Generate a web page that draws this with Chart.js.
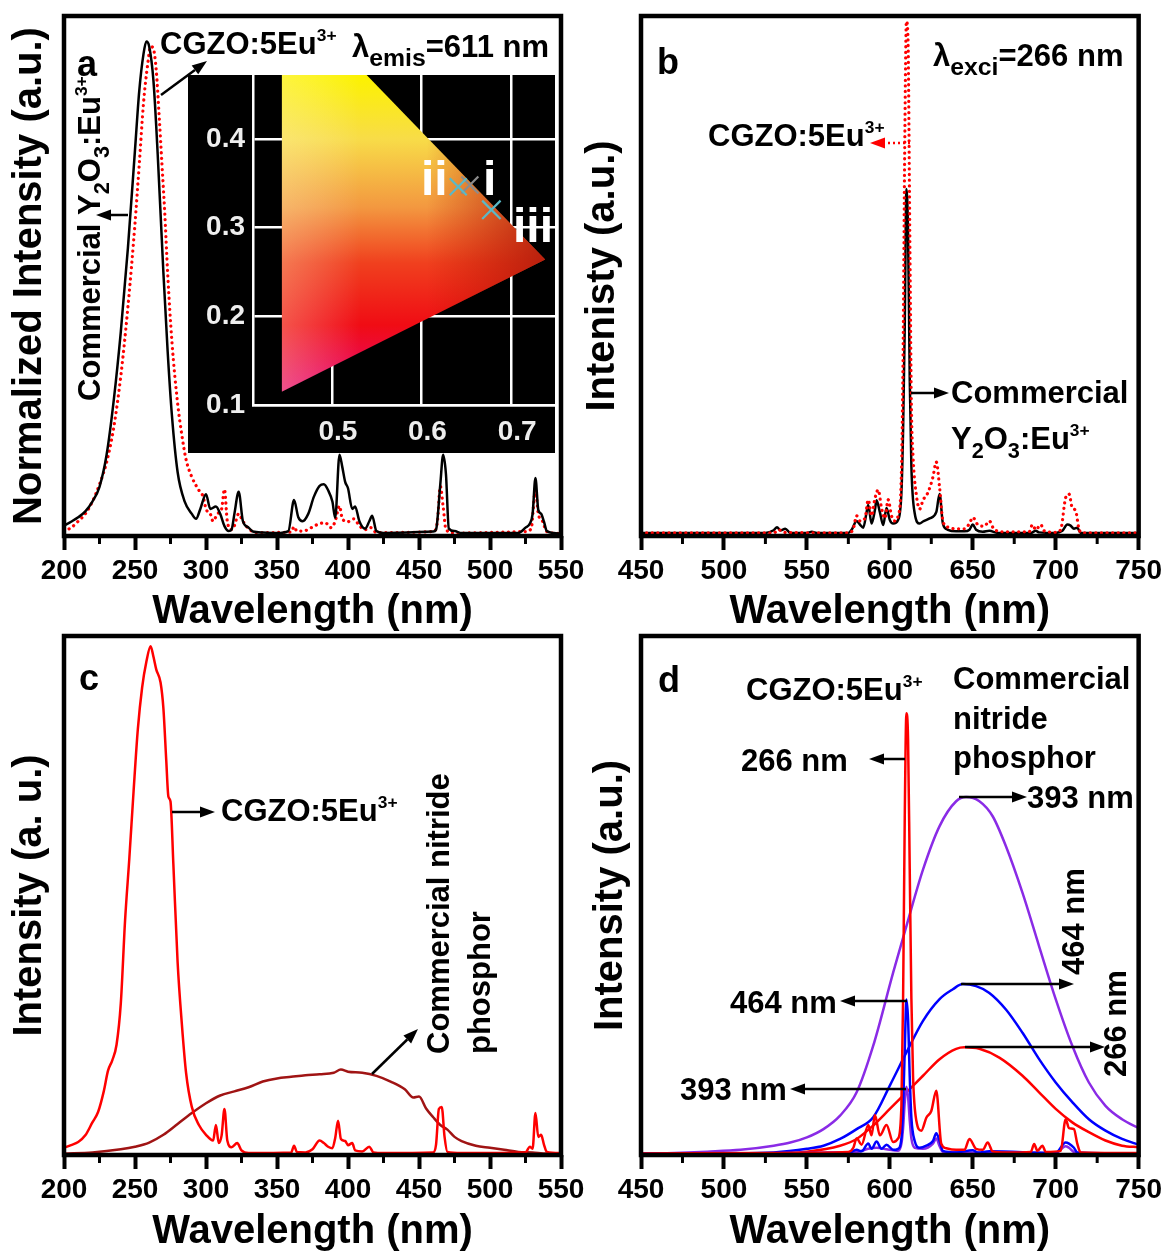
<!DOCTYPE html>
<html>
<head>
<meta charset="utf-8">
<script src="https://cdn.jsdelivr.net/npm/chart.js@4.4.1/dist/chart.umd.min.js"></script>
<style>
  body { margin: 0; background: #fff; width: 1166px; height: 1252px; position: relative; overflow: hidden; }
  canvas { position: absolute; }
</style>
</head>
<body>
<canvas id="chartA" width="590" height="632" style="left:0px;top:0px"></canvas>
<canvas id="chartB" width="583" height="632" style="left:583px;top:0px"></canvas>
<canvas id="chartC" width="590" height="626" style="left:0px;top:626px"></canvas>
<canvas id="chartD" width="583" height="626" style="left:583px;top:626px"></canvas>
<canvas id="inset" width="367" height="378" style="left:188px;top:75px"></canvas>
<script>
// ---- data ----
// a: excitation spectra, lambda_emis = 611 nm (normalized)
const aY2o3Nm  = [200,205,210,215,220,225,230,235,240,245,250,253,256,258,260,263,266,270,273,276,280,285,290,293,296,300,303,307,310,313,316,318,320,323,326,330,333,340,350,358,362,365,368,372,376,380,383,386,389,391,394,396,398,400,403,405,408,412,415,417,420,425,460,462,465,467,469,471,475,480,520,525,528,530,532,534,536,538,540,545,550];
const aY2o3Int = [0.016,0.024,0.033,0.045,0.065,0.095,0.16,0.27,0.41,0.58,0.78,0.9,0.975,1.0,0.99,0.92,0.77,0.53,0.37,0.24,0.125,0.065,0.04,0.03,0.05,0.08,0.05,0.055,0.04,0.015,0.005,0.008,0.04,0.085,0.025,0.012,0.004,0.002,0.001,0.005,0.068,0.033,0.025,0.04,0.075,0.097,0.1,0.088,0.065,0.032,0.16,0.135,0.105,0.092,0.05,0.055,0.025,0.01,0.025,0.036,0.005,0.001,0.004,0.008,0.1,0.16,0.12,0.01,0.005,0.001,0.001,0.012,0.02,0.04,0.113,0.048,0.04,0.024,0.005,0.001,0];
const aCgzoNm  = [200,205,210,215,220,225,230,235,240,245,250,253,256,259,261,263,265,267,269,271,273,276,280,283,286,290,295,298,300,303,305,308,311,313,315,318,320,323,326,330,335,360,362,364,370,376,380,384,388,391,394,396,400,404,408,412,416,420,460,463,465,467,469,475,525,529,532,534,537,540,550];
const aCgzoInt = [0.005,0.012,0.025,0.04,0.065,0.1,0.145,0.215,0.32,0.46,0.63,0.75,0.875,0.955,0.99,0.985,0.94,0.85,0.75,0.65,0.53,0.39,0.265,0.2,0.15,0.115,0.088,0.075,0.05,0.04,0.025,0.04,0.05,0.09,0.025,0.008,0.016,0.04,0.025,0.01,0.002,0.003,0.014,0.005,0.006,0.015,0.02,0.022,0.012,0.025,0.056,0.03,0.024,0.03,0.016,0.008,0.012,0.002,0.004,0.025,0.096,0.055,0.008,0.001,0.004,0.01,0.088,0.04,0.025,0.004,0];
// inset: CIE chromaticity
const gamutX      = [0.444, 0.738];
const gamutTop    = [0.571, 0.264];
const gamutBottom = [0.115, 0.264];
const cieLabels = ['i', 'ii', 'iii'];
const cieX      = [0.654, 0.641, 0.678];
const cieY      = [0.348, 0.346, 0.320];

// b: emission spectra, lambda_exci = 266 nm
const bY2o3Nm  = [450,525,530,532,534,537,540,550,553,556,575,577,580,582,584,586,587,589,591,592,594,596,598,600,602,605,607,608,609,610,611,612,613,615,618,620,624,628,630,632,635,640,645,648,650,652,656,660,665,685,688,690,700,704,707,709,711,713,715,750];
const bY2o3Int = [0.002,0.002,0.007,0.013,0.007,0.01,0.002,0.002,0.004,0.002,0.002,0.008,0.025,0.018,0.012,0.042,0.056,0.02,0.046,0.065,0.042,0.017,0.05,0.027,0.02,0.027,0.08,0.2,0.4,0.666,0.58,0.3,0.13,0.04,0.02,0.024,0.03,0.042,0.077,0.02,0.008,0.005,0.005,0.008,0.018,0.008,0.004,0.006,0.002,0.002,0.006,0.003,0.002,0.006,0.018,0.016,0.01,0.012,0.002,0.002];
const bCgzoNm  = [450,530,533,536,575,578,580,582,585,587,589,591,593,595,597,599,601,603,605,607,608,609,610,611,612,613,614,616,618,620,623,626,628,630,632,635,640,645,648,650,653,657,660,663,670,684,686,688,691,693,700,703,706,708,710,712,714,716,750];
const bCgzoInt = [0.002,0.002,0.008,0.003,0.002,0.01,0.035,0.025,0.03,0.066,0.035,0.068,0.085,0.05,0.03,0.066,0.035,0.025,0.035,0.12,0.35,0.75,0.99,0.95,0.6,0.25,0.15,0.075,0.048,0.065,0.08,0.11,0.139,0.09,0.025,0.013,0.01,0.01,0.02,0.032,0.018,0.015,0.025,0.008,0.004,0.004,0.018,0.008,0.018,0.006,0.003,0.008,0.07,0.077,0.05,0.045,0.01,0.002,0.002];

// c: excitation spectra
const cCgzoNm  = [200,205,210,215,220,224,228,231,234,237,240,243,246,249,252,255,258,261,263,265,268,270,272,273.5,275,277,280,283,286,290,295,300,305,307,309,311,313,315,318,322,325,330,360,362,364,370,375,380,383,386,389,391,393,395,398,400,403,405,410,415,418,425,460,462,464,466,468,470,480,525,528,530,532,534,536,538,540,550];
const cCgzoInt = [0.011,0.016,0.022,0.035,0.06,0.08,0.12,0.16,0.18,0.21,0.29,0.45,0.57,0.7,0.82,0.9,0.95,0.98,0.96,0.935,0.91,0.86,0.76,0.69,0.68,0.56,0.37,0.25,0.155,0.09,0.055,0.036,0.025,0.055,0.02,0.035,0.086,0.025,0.012,0.02,0.006,0.001,0.002,0.015,0.003,0.002,0.008,0.025,0.02,0.013,0.01,0.03,0.063,0.028,0.024,0.016,0.02,0.006,0.004,0.013,0.002,0.001,0.002,0.017,0.086,0.09,0.032,0.003,0.001,0.002,0.013,0.009,0.078,0.032,0.036,0.017,0.003,0.001];
const cNitNm   = [200,220,240,250,260,270,280,290,300,310,320,330,340,350,360,370,380,390,395,400,410,420,430,440,446,450,455,460,465,470,475,480,490,500,510,520,530,540,550];
const cNitInt  = [0.0,0.002,0.008,0.013,0.021,0.036,0.057,0.078,0.097,0.112,0.12,0.128,0.139,0.145,0.148,0.151,0.153,0.156,0.162,0.158,0.156,0.15,0.139,0.124,0.108,0.11,0.087,0.07,0.055,0.046,0.032,0.024,0.015,0.011,0.007,0.003,0.002,0.0,0.0];

// d: emission spectra at three excitation wavelengths
const dNit393Nm  = [450,470,490,510,530,540,550,560,570,580,590,602,610,620,630,640,646,654,662,670,680,690,700,710,720,730,740,750];
const dNit393Int = [0.0,0.002,0.0045,0.008,0.016,0.022,0.032,0.048,0.074,0.119,0.209,0.35,0.44,0.549,0.633,0.681,0.689,0.681,0.652,0.594,0.504,0.401,0.299,0.209,0.138,0.093,0.067,0.05];
const dNit464Nm  = [450,500,530,550,560,570,580,590,600,610,620,630,638,644,652,660,670,680,690,700,710,720,730,740,750];
const dNit464Int = [0.0,0.001,0.003,0.01,0.016,0.029,0.048,0.071,0.132,0.196,0.257,0.299,0.318,0.328,0.324,0.311,0.279,0.234,0.183,0.138,0.1,0.067,0.045,0.029,0.018];
const dNit266Nm  = [450,510,530,550,570,580,590,600,610,620,630,640,645,654,666,680,690,700,710,720,730,740,750];
const dNit266Int = [0.0,0.0,0.001,0.0045,0.016,0.029,0.055,0.087,0.119,0.151,0.183,0.203,0.206,0.203,0.186,0.151,0.119,0.087,0.061,0.042,0.026,0.016,0.013];
const dCgzo266Nm  = [450,530,575,578,580,583,587,589,591,594,598,602,605,607,608,609,610,611,612,613,614,616,619,622,625,628,631,634,640,645,648,652,656,659,662,670,685,687,689,692,694,703,706,708,711,713,715,750];
const dCgzo266Int = [0.001,0.002,0.004,0.012,0.03,0.018,0.056,0.036,0.075,0.036,0.056,0.023,0.03,0.094,0.3,0.65,0.851,0.8,0.55,0.3,0.15,0.064,0.045,0.07,0.083,0.122,0.02,0.011,0.008,0.008,0.029,0.01,0.008,0.022,0.005,0.003,0.004,0.019,0.006,0.016,0.004,0.006,0.067,0.05,0.048,0.02,0.003,0.002];
const dCgzo464Nm  = [450,575,580,583,587,589,592,595,598,602,605,607,608,609,610,611,612,613,615,618,622,626,628,630,632,640,650,653,660,700,706,708,711,713,750];
const dCgzo464Int = [0.001,0.002,0.008,0.005,0.02,0.01,0.024,0.01,0.018,0.008,0.01,0.03,0.09,0.2,0.298,0.26,0.15,0.07,0.025,0.012,0.016,0.025,0.04,0.025,0.006,0.003,0.007,0.003,0.005,0.002,0.022,0.02,0.012,0.003,0.001];
const dCgzo393Nm  = [450,580,587,592,598,605,607,608,609,610,611,612,613,615,620,626,628,630,632,700,706,708,712,750];
const dCgzo393Int = [0.001,0.004,0.01,0.012,0.009,0.006,0.02,0.05,0.1,0.13,0.11,0.065,0.03,0.012,0.01,0.02,0.03,0.015,0.004,0.002,0.015,0.012,0.002,0.001];

// ---- helpers ----
const FONT = '"Liberation Sans", Arial, sans-serif';
const RED = '#ff0000';
const DARKRED = '#a01414';
const PURPLE = '#8a2be6';
const BLUE = '#0000ff';

function pts(xs, ys) {
  return xs.map((x, i) => ({ x: x, y: ys[i] }));
}

function solid(xs, ys, color, width) {
  return { data: pts(xs, ys), borderColor: color, borderWidth: width || 2.5, pointRadius: 0, fill: false };
}

function dotted(xs, ys, color) {
  return { data: pts(xs, ys), borderColor: color, borderWidth: 3.2, borderDash: [0.1, 5.5], borderCapStyle: 'round', pointRadius: 0, fill: false };
}

// text with sub / superscripts; parts = [[text, kind, scale]]
function rich(ctx, parts, x, y, size, rotate, color) {
  ctx.save();
  ctx.translate(x, y);
  if (rotate) ctx.rotate(-Math.PI / 2);
  ctx.fillStyle = color || '#000';
  ctx.textAlign = 'left';
  ctx.textBaseline = 'alphabetic';
  let cx = 0;
  for (const p of parts) {
    const kind = p[1];
    const s = kind ? size * (p[2] || 0.6) : size;
    ctx.font = 'bold ' + s + 'px ' + FONT;
    const dy = kind === 'sub' ? size * 0.3 : kind === 'sup' ? -size * 0.42 : 0;
    ctx.fillText(p[0], cx, dy);
    cx += ctx.measureText(p[0]).width;
  }
  ctx.restore();
}

function arrow(ctx, x1, y1, x2, y2, color, isDotted) {
  ctx.save();
  ctx.strokeStyle = color || '#000';
  ctx.fillStyle = color || '#000';
  ctx.lineWidth = 2.5;
  const a = Math.atan2(y2 - y1, x2 - x1);
  const hl = 15, hw = 5.5;
  const bx = x2 - hl * Math.cos(a), by = y2 - hl * Math.sin(a);
  if (isDotted) { ctx.setLineDash([2, 3]); }
  ctx.beginPath();
  ctx.moveTo(x1, y1);
  ctx.lineTo(bx, by);
  ctx.stroke();
  ctx.setLineDash([]);
  ctx.beginPath();
  ctx.moveTo(x2, y2);
  ctx.lineTo(bx - hw * Math.sin(a), by + hw * Math.cos(a));
  ctx.lineTo(bx + hw * Math.sin(a), by - hw * Math.cos(a));
  ctx.closePath();
  ctx.fill();
  ctx.restore();
}

const CGZO = [['CGZO:5Eu'], ['3+', 'sup', 0.56]];
const Y2O3 = [['Y'], ['2', 'sub', 0.7], ['O'], ['3', 'sub', 0.7], [':Eu'], ['3+', 'sup', 0.56]];

// one spectrum panel
function panel(id, box, xr, yr, datasets, yTitle, yTitlePad, notes) {
  const el = document.getElementById(id);
  const ox = parseFloat(el.style.left), oy = parseFloat(el.style.top);
  const bold = (size) => ({ family: FONT, weight: 'bold', size: size, lineHeight: 1 });
  return new Chart(el, {
    type: 'line',
    data: { datasets: datasets },
    options: {
      responsive: false,
      animation: false,
      devicePixelRatio: 1,
      layout: { autoPadding: false, padding: { left: 0, top: box.top, right: el.width - box.right, bottom: 0 } },
      plugins: { legend: { display: false }, tooltip: { enabled: false } },
      elements: { line: { cubicInterpolationMode: 'monotone' } },
      scales: {
        x: {
          type: 'linear', min: xr[0], max: xr[1],
          ticks: { stepSize: 50, autoSkip: false, maxRotation: 0, padding: 4, color: '#000',
                   font: { family: FONT, weight: 'bold', size: 28, lineHeight: 1.2 } },
          grid: { drawOnChartArea: false, drawTicks: true, tickLength: 14, tickWidth: 4, tickColor: '#000' },
          border: { display: false },
          title: { display: true, text: 'Wavelength (nm)', color: '#000', font: bold(40), padding: 0 },
          afterFit: (s) => { s.height = el.height - box.bottom; }
        },
        y: {
          min: yr[0], max: yr[1],
          ticks: { display: false },
          grid: { display: false },
          border: { display: false },
          title: { display: true, text: yTitle, color: '#000', font: bold(40), padding: { top: yTitlePad, bottom: 0 } },
          afterFit: (s) => { s.width = box.left; }
        }
      }
    },
    plugins: [{
      id: 'frameAndNotes',
      afterDraw(chart) {
        const ctx = chart.ctx;
        const ca = chart.chartArea;
        const xs = chart.scales.x;
        ctx.save();
        ctx.strokeStyle = '#000';
        ctx.lineWidth = 3;
        for (let v = xr[0] + 25; v < xr[1]; v += 50) {
          const px = xs.getPixelForValue(v);
          ctx.beginPath();
          ctx.moveTo(px, ca.bottom);
          ctx.lineTo(px, ca.bottom + 8);
          ctx.stroke();
        }
        ctx.lineWidth = 4.5;
        ctx.strokeRect(ca.left, ca.top, ca.right - ca.left, ca.bottom - ca.top);
        ctx.translate(-ox, -oy);
        notes(ctx);
        ctx.restore();
      }
    }]
  });
}

// ---- panel a ----
panel('chartA', { left: 64, top: 16, right: 561, bottom: 536 }, [200, 550], [-0.005, 1.052],
  [solid(aY2o3Nm, aY2o3Int, '#000', 2.5), dotted(aCgzoNm, aCgzoInt, RED)],
  'Normalized Intensity (a.u.)', 10,
  (ctx) => {
    rich(ctx, [['a']], 77, 76, 36);
    rich(ctx, CGZO, 160, 54, 31);
    rich(ctx, [['λ'], ['emis', 'sub', 0.8], ['=611 nm']], 352, 57, 31);
    arrow(ctx, 161, 95, 207, 61);
    arrow(ctx, 128, 215, 96, 215);
    rich(ctx, [['Commercial ']].concat(Y2O3), 100, 401, 31, true);
  });

// ---- panel b ----
panel('chartB', { left: 58, top: 16, right: 556, bottom: 536 }, [450, 750], [-0.004, 1.0],
  [dotted(bCgzoNm, bCgzoInt, RED), solid(bY2o3Nm, bY2o3Int, '#000', 2.5)],
  'Intenisty (a.u.)', 0,
  (ctx) => {
    rich(ctx, [['b']], 657, 74, 36);
    rich(ctx, [['λ'], ['exci', 'sub', 0.8], ['=266 nm']], 933, 66, 31);
    rich(ctx, CGZO, 708, 146, 31);
    arrow(ctx, 910, 143, 870, 143, RED, true);
    arrow(ctx, 911, 393, 949, 393);
    rich(ctx, [['Commercial']], 951, 403, 31);
    rich(ctx, Y2O3, 951, 449, 31);
  });

// ---- panel c ----
panel('chartC', { left: 64, top: 10, right: 561, bottom: 529 }, [200, 550], [-0.003, 1.0],
  [solid(cCgzoNm, cCgzoInt, RED, 2.5), solid(cNitNm, cNitInt, DARKRED, 2.5)],
  'Intensity (a. u.)', 10,
  (ctx) => {
    rich(ctx, [['c']], 79, 690, 36);
    arrow(ctx, 172, 812, 215, 812);
    rich(ctx, CGZO, 221, 821, 31);
    arrow(ctx, 372, 1074, 418, 1029);
    rich(ctx, [['Commercial nitride']], 449, 1054, 31, true);
    rich(ctx, [['phosphor']], 490, 1054, 31, true);
  });

// ---- panel d ----
panel('chartD', { left: 58, top: 10, right: 556, bottom: 529 }, [450, 750], [-0.002, 1.0],
  [solid(dCgzo266Nm, dCgzo266Int, RED, 2.5),
   solid(dCgzo464Nm, dCgzo464Int, BLUE, 2.5),
   solid(dCgzo393Nm, dCgzo393Int, PURPLE, 2.5),
   solid(dNit266Nm, dNit266Int, RED, 2.5),
   solid(dNit464Nm, dNit464Int, BLUE, 2.5),
   solid(dNit393Nm, dNit393Int, PURPLE, 2.5)],
  'Intensity (a.u.)', 8,
  (ctx) => {
    rich(ctx, [['d']], 658, 692, 36);
    rich(ctx, CGZO, 746, 700, 31);
    rich(ctx, [['Commercial']], 953, 689, 31);
    rich(ctx, [['nitride']], 953, 729, 31);
    rich(ctx, [['phosphor']], 953, 768, 31);
    rich(ctx, [['266 nm']], 741, 771, 31);
    arrow(ctx, 905, 759, 869, 759);
    rich(ctx, [['393 nm']], 1027, 808, 31);
    arrow(ctx, 959, 797, 1027, 797);
    rich(ctx, [['464 nm']], 730, 1013, 31);
    arrow(ctx, 907, 1001, 840, 1001);
    rich(ctx, [['393 nm']], 680, 1100, 31);
    arrow(ctx, 906, 1089, 790, 1089);
    arrow(ctx, 961, 984, 1074, 984);
    rich(ctx, [['464 nm']], 1084, 975, 31, true);
    arrow(ctx, 965, 1047, 1105, 1047);
    rich(ctx, [['266 nm']], 1126, 1077, 31, true);
  });

// ---- inset: CIE diagram ----
function gamutBase(context) {
  const chart = context.chart;
  if (!chart.chartArea) return 'transparent';
  const y = chart.scales.y;
  const g = chart.ctx.createLinearGradient(0, y.getPixelForValue(0.47), 0, y.getPixelForValue(0.12));
  g.addColorStop(0, '#fcf200');
  g.addColorStop(0.2, '#f8dc48');
  g.addColorStop(0.42, '#f39840');
  g.addColorStop(0.6, '#f0401e');
  g.addColorStop(0.8, '#f00c14');
  g.addColorStop(1, '#e8086e');
  return g;
}
function gamutShade(context) {
  const chart = context.chart;
  if (!chart.chartArea) return 'transparent';
  const x = chart.scales.x;
  const g = chart.ctx.createLinearGradient(x.getPixelForValue(0.444), 0, x.getPixelForValue(0.738), 0);
  g.addColorStop(0, 'rgba(255,250,200,0.3)');
  g.addColorStop(0.3, 'rgba(255,255,255,0)');
  g.addColorStop(0.55, 'rgba(190,20,0,0)');
  g.addColorStop(1, 'rgba(175,25,10,0.85)');
  return g;
}

const insetEl = document.getElementById('inset');
const tickFont = { family: FONT, weight: 'bold', size: 28 };
new Chart(insetEl, {
  type: 'line',
  data: {
    datasets: [
      { data: pts([cieX[1]], [cieY[1]]), showLine: false, pointStyle: 'crossRot', pointRadius: 12, pointBorderColor: '#5ab8c6', pointBorderWidth: 2.2 },
      { data: pts([cieX[2]], [cieY[2]]), showLine: false, pointStyle: 'crossRot', pointRadius: 13, pointBorderColor: '#5ab8c6', pointBorderWidth: 2.2 },
      { data: pts([cieX[0]], [cieY[0]]), showLine: false, pointStyle: 'crossRot', pointRadius: 12, pointBorderColor: '#8c8c8c', pointBorderWidth: 2.2 },
      { data: pts(gamutX, gamutTop), borderWidth: 0, pointRadius: 0, fill: '+1', backgroundColor: gamutShade },
      { data: pts(gamutX, gamutBottom), borderWidth: 0, pointRadius: 0, fill: false },
      { data: pts(gamutX, gamutTop), borderWidth: 0, pointRadius: 0, fill: '+1', backgroundColor: gamutBase },
      { data: pts(gamutX, gamutBottom), borderWidth: 0, pointRadius: 0, fill: false }
    ]
  },
  options: {
    responsive: false,
    animation: false,
    devicePixelRatio: 1,
    layout: { autoPadding: false, padding: 0 },
    plugins: { legend: { display: false }, tooltip: { enabled: false } },
    scales: {
      x: {
        type: 'linear', min: 0.412, max: 0.749,
        ticks: { stepSize: 0.1, includeBounds: false, color: '#eeeeee', font: tickFont, padding: 10, labelOffset: 6 },
        grid: { color: '#ffffff', lineWidth: 2.5, drawTicks: false },
        border: { color: '#ffffff', width: 2.5 },
        afterFit: (s) => { s.height = 48; s.paddingLeft = 0; s.paddingRight = 0; }
      },
      y: {
        min: 0.1, max: 0.472,
        ticks: { stepSize: 0.1, includeBounds: false, color: '#eeeeee', font: tickFont, padding: 8 },
        grid: { color: '#ffffff', lineWidth: 2.5, drawTicks: false },
        border: { color: '#ffffff', width: 2.5 },
        afterFit: (s) => { s.width = 65; s.paddingTop = 0; s.paddingBottom = 0; }
      }
    }
  },
  plugins: [{
    id: 'insetBgLabels',
    beforeDraw(chart) {
      const ctx = chart.ctx;
      ctx.save();
      ctx.fillStyle = '#000';
      ctx.fillRect(0, 0, chart.width, chart.height);
      ctx.restore();
    },
    afterDraw(chart) {
      const ctx = chart.ctx;
      ctx.save();
      ctx.translate(-188, -75);
      const narrow = '"Liberation Sans Narrow", "Liberation Sans", Arial, sans-serif';
      ctx.fillStyle = '#ffffff';
      ctx.font = 'bold 48px ' + narrow;
      ctx.fillText(cieLabels[1], 421, 195);
      ctx.fillText(cieLabels[0], 483, 195);
      ctx.fillText(cieLabels[2], 513, 242);
      ctx.restore();
    }
  }]
});
</script>
</body>
</html>
